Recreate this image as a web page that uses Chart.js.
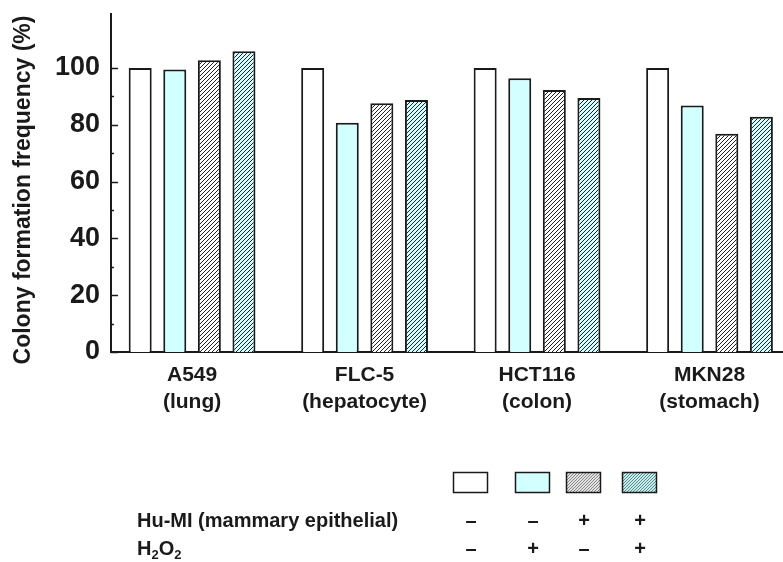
<!DOCTYPE html>
<html>
<head>
<meta charset="utf-8">
<script src="https://cdn.jsdelivr.net/npm/chart.js@4/dist/chart.umd.min.js"></script>
<style>
  html, body { margin: 0; padding: 0; background: #fff; }
  #wrap { width: 783px; height: 562px; position: relative; }
</style>
</head>
<body>
<div id="wrap"><canvas id="colony"></canvas></div>
<script>
// data
const cellLines = [['A549', '(lung)'], ['FLC-5', '(hepatocyte)'], ['HCT116', '(colon)'], ['MKN28', '(stomach)']];
const ctrl = [100, 100, 100, 100];
const h2o2Only = [99.5, 80.7, 96.4, 86.8];
const huMIOnly = [102.7, 87.6, 92.2, 76.8];
const huMIH2O2 = [105.9, 88.7, 89.4, 82.8];
const yMajor = [0, 20, 40, 60, 80, 100];
const yMinor = [10, 30, 50, 70, 90];
const huMISigns = ['\u2013', '\u2013', '+', '+'];
const h2o2Signs = ['\u2013', '+', '\u2013', '+'];
const yTitle = 'Colony formation frequency (%)';

const FONT = '"Liberation Sans", Arial, sans-serif';
const INK = '#1a1a1a';
const CYAN = '#d2ffff';

function hatch(bg, step, ink) {
    let c = document.createElement('canvas');
    c.width = c.height = step;
    let g = c.getContext('2d');
    g.fillStyle = bg;
    g.fillRect(0, 0, step, step);
    g.strokeStyle = ink;
    g.lineWidth = 1;
    g.beginPath();
    g.moveTo(0, step); g.lineTo(step, 0);
    g.moveTo(-1, 1); g.lineTo(1, -1);
    g.moveTo(step - 1, step + 1); g.lineTo(step + 1, step - 1);
    g.stroke();
    return g.createPattern(c, 'repeat');
}

function pts(arr) {
    return arr.map((v, i) => ({x: i, y: v}));
}

const fills = ['#ffffff', CYAN, hatch('#ffffff', 4, '#222'), hatch(CYAN, 4, '#222')];
const keyFills = ['#ffffff', CYAN, hatch('#e2e2e2', 3, '#888'), hatch('#c4eeee', 3, '#5f8a8a')];

// y title, inward tick marks on the y axis, treatment table below the plot
const extras = {
    id: 'extras',
    afterDraw(chart) {
        let ctx = chart.ctx;
        let y = chart.scales.y;
        let left = chart.chartArea.left;
        ctx.save();

        ctx.save();
        ctx.translate(24, 190);
        ctx.rotate(-Math.PI / 2);
        ctx.fillStyle = INK;
        ctx.font = 'bold 23px ' + FONT;
        ctx.textAlign = 'center';
        ctx.textBaseline = 'middle';
        ctx.fillText(yTitle, 0, 0);
        ctx.restore();

        ctx.strokeStyle = INK;
        ctx.lineWidth = 1.5;
        yMajor.concat(yMinor).forEach(v => {
            let py = Math.round(y.getPixelForValue(v)) + 0.5;
            let len = yMajor.includes(v) ? 7 : 3;
            ctx.beginPath();
            ctx.moveTo(left, py);
            ctx.lineTo(left + len, py);
            ctx.stroke();
        });

        // key boxes
        let boxX = [453, 515, 566, 622];
        boxX.forEach((bx, i) => {
            ctx.fillStyle = keyFills[i];
            ctx.fillRect(bx, 472, 34, 20);
            ctx.lineWidth = 1.5;
            ctx.strokeStyle = INK;
            ctx.strokeRect(bx + 0.5, 472.5, 34, 20);
        });

        ctx.fillStyle = INK;
        ctx.textBaseline = 'middle';
        ctx.font = 'bold 20px ' + FONT;
        ctx.textAlign = 'left';
        ctx.fillText('Hu-MI (mammary epithelial)', 137, 521);

        // H2O2 with subscripts
        let x = 137;
        [['H', 20, 0], ['2', 13, 6], ['O', 20, 0], ['2', 13, 6]].forEach(p => {
            ctx.font = 'bold ' + p[1] + 'px ' + FONT;
            ctx.fillText(p[0], x, 549 + p[2]);
            x += ctx.measureText(p[0]).width;
        });

        ctx.font = 'bold 20px ' + FONT;
        ctx.textAlign = 'center';
        boxX.forEach((bx, i) => {
            ctx.fillText(huMISigns[i], bx + 18, 521);
            ctx.fillText(h2o2Signs[i], bx + 18, 549);
        });
        ctx.restore();
    }
};

let ds = [ctrl, h2o2Only, huMIOnly, huMIH2O2].map((arr, i) => ({
    data: pts(arr),
    backgroundColor: fills[i],
    borderColor: INK,
    borderWidth: 2,
    borderSkipped: 'start',
    categoryPercentage: 0.802,
    barPercentage: 0.665
}));

new Chart(document.getElementById('colony'), {
    type: 'bar',
    data: { datasets: ds },
    options: {
        responsive: true,
        maintainAspectRatio: false,
        animation: false,
        layout: { padding: { top: 14, right: 0, left: 0, bottom: 0 } },
        plugins: {
            legend: { display: false },
            tooltip: { enabled: false }
        },
        scales: {
            x: {
                type: 'linear',
                offset: false,
                min: -0.47,
                max: 3.426,
                grid: { display: false, drawTicks: false },
                border: { display: true, color: INK, width: 2 },
                afterBuildTicks: s => { s.ticks = cellLines.map((c, i) => ({value: i})); },
                afterFit: s => { s.height = 210; s.paddingLeft = 0; s.paddingRight = 0; },
                ticks: {
                    padding: 10,
                    color: INK,
                    maxRotation: 0,
                    autoSkip: false,
                    font: { family: FONT, size: 21, weight: 'bold', lineHeight: 1.28 },
                    callback: v => cellLines[v] || ''
                }
            },
            y: {
                min: 0,
                max: 119,
                grid: { display: false, drawTicks: false },
                border: { display: true, color: INK, width: 2 },
                afterBuildTicks: s => { s.ticks = yMajor.map(v => ({value: v})); },
                afterFit: s => { s.width = 111; s.paddingTop = 0; s.paddingBottom = 0; },
                ticks: {
                    padding: 11,
                    color: INK,
                    font: { family: FONT, size: 27, weight: 'bold' }
                }
            }
        }
    },
    plugins: [extras]
});
</script>
</body>
</html>
